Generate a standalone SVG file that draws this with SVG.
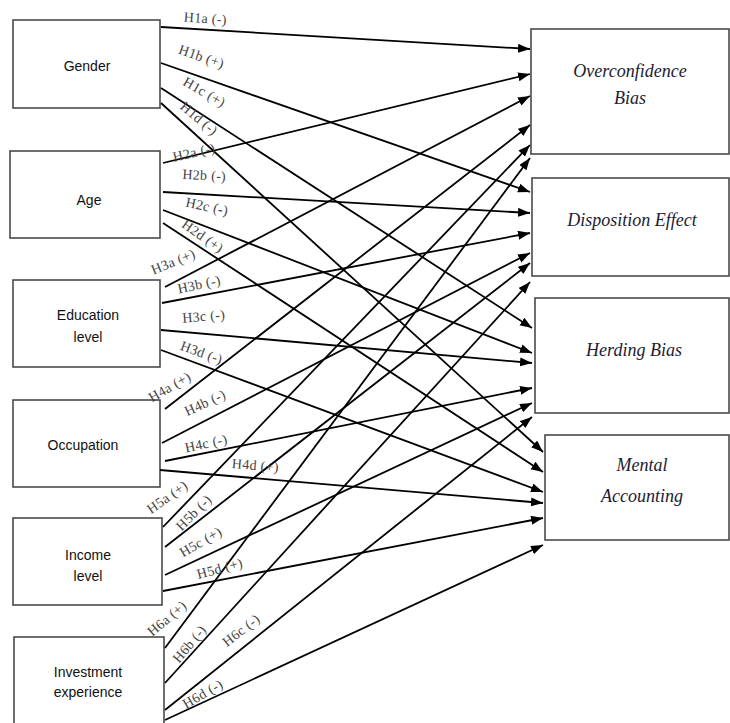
<svg xmlns="http://www.w3.org/2000/svg" width="730" height="723" viewBox="0 0 730 723">
<defs>
<marker id="ah" markerUnits="userSpaceOnUse" markerWidth="13" markerHeight="10" refX="12" refY="4.5" orient="auto">
<path d="M0,0 L12,4.5 L0,9 z" fill="#000"/>
</marker>
<style>
.box{fill:#fff;stroke:#4a4a4a;stroke-width:1.6}
.lt{font-family:"Liberation Sans",Arial,sans-serif;font-size:14px;fill:#111;text-anchor:middle}
.rt{font-family:"Liberation Serif","Times New Roman",serif;font-style:italic;font-size:18px;fill:#1c1c33;text-anchor:middle}
.c line{stroke:#000;stroke-width:1.8;marker-end:url(#ah)}
.hl{font-family:"Liberation Serif","Times New Roman",serif;font-size:14px;fill:#444;text-anchor:middle;letter-spacing:0.3px}
</style>
</defs>
<rect width="730" height="723" fill="#fff"/>
<g id="gender"><rect class="box" x="13" y="20" width="147" height="88"/><text class="lt" x="87" y="71">Gender</text></g>
<g id="age"><rect class="box" x="10" y="151" width="150" height="87"/><text class="lt" x="89" y="205">Age</text></g>
<g id="education"><rect class="box" x="13" y="280" width="147" height="87"/><text class="lt" x="88" y="320">Education</text><text class="lt" x="88" y="342">level</text></g>
<g id="occupation"><rect class="box" x="13" y="400" width="147" height="87"/><text class="lt" x="83" y="450">Occupation</text></g>
<g id="income"><rect class="box" x="13" y="518" width="149" height="87"/><text class="lt" x="88" y="560">Income</text><text class="lt" x="88" y="581">level</text></g>
<g id="investment"><rect class="box" x="14" y="637" width="150" height="90"/><text class="lt" x="88" y="677">Investment</text><text class="lt" x="88" y="697">experience</text></g>
<g id="overconfidence"><rect class="box" x="531" y="29" width="198" height="125"/><text class="rt" x="630" y="77">Overconfidence</text><text class="rt" x="630" y="104">Bias</text></g>
<g id="disposition"><rect class="box" x="532" y="178" width="197" height="98"/><text class="rt" x="632" y="226">Disposition Effect</text></g>
<g id="herding"><rect class="box" x="535" y="298" width="194" height="115"/><text class="rt" x="634" y="356">Herding Bias</text></g>
<g id="mental"><rect class="box" x="545" y="435" width="184" height="105"/><text class="rt" x="642" y="471">Mental</text><text class="rt" x="642" y="502">Accounting</text></g>
<g class="c" id="connectors">
<line x1="161" y1="27" x2="530" y2="49"/>
<line x1="161" y1="63" x2="530" y2="192"/>
<line x1="161" y1="88" x2="532" y2="328"/>
<line x1="161" y1="103" x2="543" y2="452"/>
<line x1="163" y1="163" x2="530" y2="74"/>
<line x1="163" y1="192" x2="530" y2="213"/>
<line x1="163" y1="210" x2="532" y2="353"/>
<line x1="163" y1="223" x2="543" y2="472"/>
<line x1="165" y1="287" x2="530" y2="96"/>
<line x1="162" y1="303" x2="530" y2="233"/>
<line x1="161" y1="330" x2="532" y2="363"/>
<line x1="161" y1="350" x2="543" y2="492"/>
<line x1="165" y1="409" x2="530" y2="125"/>
<line x1="162" y1="443" x2="530" y2="253"/>
<line x1="165" y1="461" x2="532" y2="388"/>
<line x1="160" y1="470" x2="543" y2="503"/>
<line x1="163" y1="527" x2="530" y2="145"/>
<line x1="165" y1="547" x2="530" y2="263"/>
<line x1="165" y1="575" x2="532" y2="403"/>
<line x1="163" y1="591" x2="543" y2="518"/>
<line x1="165" y1="648" x2="530" y2="158"/>
<line x1="165" y1="683" x2="530" y2="282"/>
<line x1="165" y1="710" x2="532" y2="417"/>
<line x1="165" y1="720" x2="543" y2="545"/>
</g>
<g id="labels">
<text class="hl" transform="translate(205,23) rotate(4)">H1a (-)</text>
<text class="hl" transform="translate(200,61) rotate(19)">H1b (+)</text>
<text class="hl" transform="translate(202,96) rotate(30)">H1c (+)</text>
<text class="hl" transform="translate(196,122) rotate(40)">H1d (-)</text>
<text class="hl" transform="translate(195,157) rotate(-13)">H2a (-)</text>
<text class="hl" transform="translate(204,180) rotate(3)">H2b (-)</text>
<text class="hl" transform="translate(206,211) rotate(12)">H2c (-)</text>
<text class="hl" transform="translate(200,240) rotate(35)">H2d (+)</text>
<text class="hl" transform="translate(175,266) rotate(-22)">H3a (+)</text>
<text class="hl" transform="translate(200,289) rotate(-12)">H3b (-)</text>
<text class="hl" transform="translate(204,321) rotate(-5)">H3c (-)</text>
<text class="hl" transform="translate(200,357) rotate(20)">H3d (-)</text>
<text class="hl" transform="translate(172,391) rotate(-30)">H4a (+)</text>
<text class="hl" transform="translate(207,407) rotate(-25)">H4b (-)</text>
<text class="hl" transform="translate(207,448) rotate(-12)">H4c (-)</text>
<text class="hl" transform="translate(255,470) rotate(5)">H4d (+)</text>
<text class="hl" transform="translate(170,501) rotate(-35)">H5a (+)</text>
<text class="hl" transform="translate(197,516) rotate(-45)">H5b (-)</text>
<text class="hl" transform="translate(203,546) rotate(-30)">H5c (+)</text>
<text class="hl" transform="translate(221,573) rotate(-15)">H5d (+)</text>
<text class="hl" transform="translate(170,622) rotate(-40)">H6a (+)</text>
<text class="hl" transform="translate(193,647) rotate(-50)">H6b (-)</text>
<text class="hl" transform="translate(244,634) rotate(-38)">H6c (-)</text>
<text class="hl" transform="translate(205,698) rotate(-30)">H6d (-)</text>
</g>
</svg>
